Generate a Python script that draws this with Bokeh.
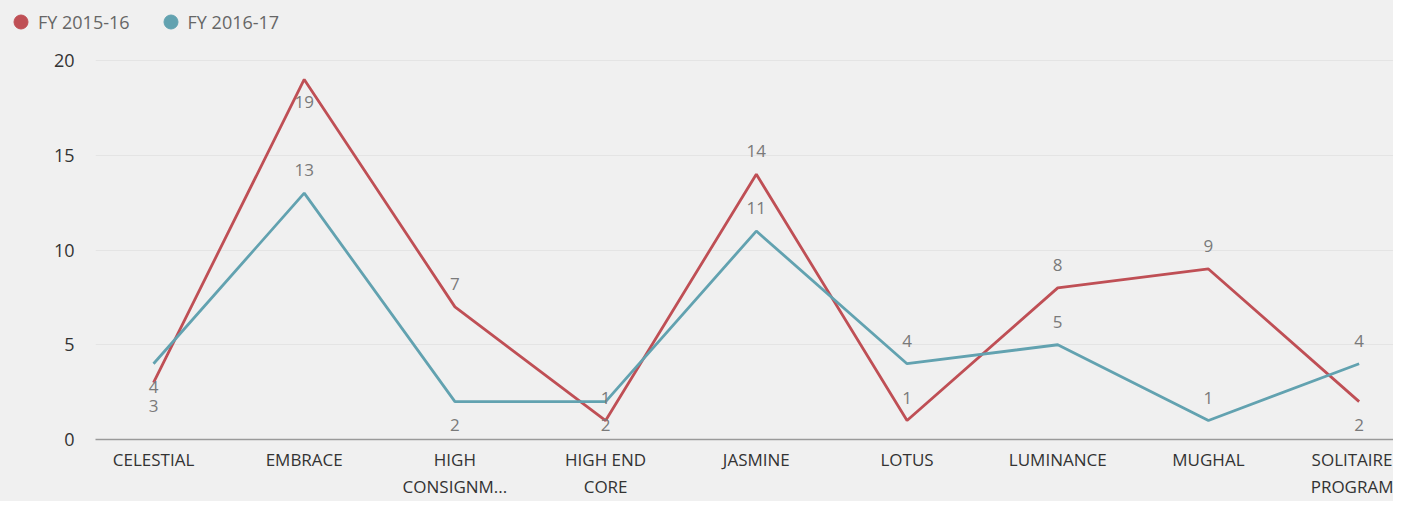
from bokeh.plotting import figure
from bokeh.layouts import column
from bokeh.models import Range1d, FixedTicker, Legend, LegendItem, ColumnDataSource
from bokeh.core.properties import value
from bokeh.embed import file_html
from bokeh.resources import INLINE

# ---- data ----
categories = ["CELESTIAL", "EMBRACE", "HIGH\nCONSIGNM...", "HIGH END\nCORE", "JASMINE",
              "LOTUS", "LUMINANCE", "MUGHAL", "SOLITAIRE\nPROGRAM"]
series_names = ["FY 2015-16", "FY 2016-17"]
fy_2015_16 = [3, 19, 7, 1, 14, 1, 8, 9, 2]
fy_2016_17 = [4, 13, 2, 2, 11, 4, 5, 1, 4]
# where each data label sits relative to its point
label_side_2015_16 = ["below", "below", "above", "above", "above", "above", "above", "above", "below"]
label_side_2016_17 = ["below", "above", "below", "below", "above", "above", "above", "above", "above"]
y_ticks = [0, 5, 10, 15, 20]

# ---- style ----
BG = "#f0f0f0"
RED = "#bf4f55"
TEAL = "#62a2b0"
FONT = "Open Sans"
LABEL_OFFSET = 23
W = 1393
NAN = float("nan")

x = list(range(len(categories)))

# ---------- legend strip ----------
lg = figure(width=W, height=40, output_backend="svg", toolbar_location=None,
            x_axis_type=None, y_axis_type=None, x_range=Range1d(0, 1), y_range=Range1d(0, 1),
            min_border=0, min_border_left=0, min_border_right=0, min_border_top=0, min_border_bottom=0)
lg.frame_align = False
lg.background_fill_color = BG
lg.border_fill_color = BG
lg.outline_line_color = None
lg.grid.visible = False
# legend swatches only (no visible point)
m1 = lg.scatter(x=[NAN], y=[NAN], marker="circle", fill_color=RED, line_color=RED)
m2 = lg.scatter(x=[NAN], y=[NAN], marker="circle", fill_color=TEAL, line_color=TEAL)
legend = Legend(items=[LegendItem(label=series_names[0], renderers=[m1]),
                       LegendItem(label=series_names[1], renderers=[m2])],
                orientation="horizontal", location=(3, 1),
                glyph_width=35, glyph_height=35, label_standoff=-8, spacing=23,
                padding=0, margin=0, border_line_color=None, background_fill_alpha=0,
                label_text_font=FONT, label_text_font_size="18px", label_text_color="#666666")
lg.add_layout(legend, "center")

# ---------- main chart ----------
p = figure(width=W, height=461, output_backend="svg", toolbar_location=None,
           x_range=Range1d(-0.385, 8.228), y_range=Range1d(0, 20.53),
           min_border_left=95, min_border_right=0, min_border_top=10, min_border_bottom=60)
p.frame_align = False
p.background_fill_color = BG
p.border_fill_color = BG
p.outline_line_color = None

# grid
p.xgrid.grid_line_color = None
p.ygrid.grid_line_color = "#e4e4e4"
p.ygrid.grid_line_width = 1

# y axis
p.yaxis.ticker = FixedTicker(ticks=y_ticks)
p.yaxis.axis_line_color = None
p.yaxis.major_tick_line_color = None
p.yaxis.minor_tick_line_color = None
p.yaxis.major_label_text_font = FONT
p.yaxis.major_label_text_font_size = "18px"
p.yaxis.major_label_text_color = "#333333"
p.yaxis.major_label_standoff = 15

# x axis
p.xaxis.ticker = FixedTicker(ticks=x)
p.xaxis.major_label_overrides = {i: c for i, c in enumerate(categories)}
p.xaxis.axis_line_color = "#9a9a9a"
p.xaxis.axis_line_width = 1.5
p.xaxis.major_tick_line_color = None
p.xaxis.minor_tick_line_color = None
p.xaxis.major_label_text_font = FONT
p.xaxis.major_label_text_font_size = "17px"
p.xaxis.major_label_text_color = "#333333"
p.xaxis.major_label_standoff = 2

# lines
p.line(x, fy_2015_16, line_color=RED, line_width=2.8)
p.line(x, fy_2016_17, line_color=TEAL, line_width=2.8)

# data labels
def label_source(vals, sides):
    return ColumnDataSource(dict(
        x=x, y=vals, text=[str(v) for v in vals],
        yoff=[-LABEL_OFFSET if s == "above" else LABEL_OFFSET for s in sides]))

for vals, sides in ((fy_2015_16, label_side_2015_16), (fy_2016_17, label_side_2016_17)):
    p.text(x="x", y="y", text="text", y_offset="yoff", source=label_source(vals, sides),
           text_font=value(FONT), text_font_size="17px", text_color="#7a7a7a",
           text_align="center", text_baseline="middle")

layout = column(lg, p, spacing=0, styles={"background-color": BG})
open("out.html", "w").write(file_html(layout, INLINE))
